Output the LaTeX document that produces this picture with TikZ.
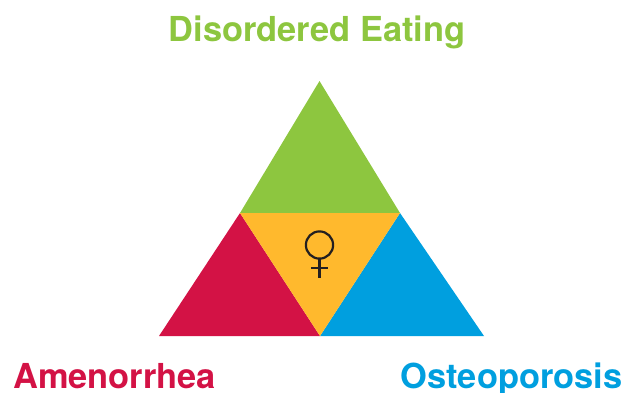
\documentclass[tikz,border=0pt]{standalone}
\usepackage{fontspec}
\setmainfont{TeX Gyre Heros}
\definecolor{cgreen}{HTML}{8DC63F}
\definecolor{cred}{HTML}{D31245}
\definecolor{cblue}{HTML}{009FDF}
\definecolor{cyel}{HTML}{FFB92D}
\definecolor{cdark}{HTML}{231F20}
\tikzset{lab/.style={font=\fontsize{34.4pt}{38pt}\selectfont\bfseries,inner sep=0pt,anchor=base}}
\begin{document}
\begin{tikzpicture}[x=1pt,y=-1pt]
\useasboundingbox (0,0) rectangle (623,392);
\fill[cgreen] (319.5,81) -- (400,213) -- (240,213) -- cycle;
\fill[cred] (240,213) -- (320,336) -- (159,336) -- cycle;
\fill[cblue] (400,213) -- (484,336) -- (320,336) -- cycle;
\fill[cyel] (240,213) -- (400,213) -- (320,336) -- cycle;
\draw[cdark,line width=2.2pt] (319.5,245) circle (13.6);
\draw[cdark,line width=2.2pt] (319.5,258.6) -- (319.5,277.5) (311,267.7) -- (328,267.7);
\node[lab,text=cgreen] (a) at (317,41) {Disordered Eating};
\node[lab,text=cred] (b) at (114.5,388) {Amenorrhea};
\node[lab,text=cblue] (c) at (511.5,388) {Osteoporosis};
\end{tikzpicture}
\end{document}
